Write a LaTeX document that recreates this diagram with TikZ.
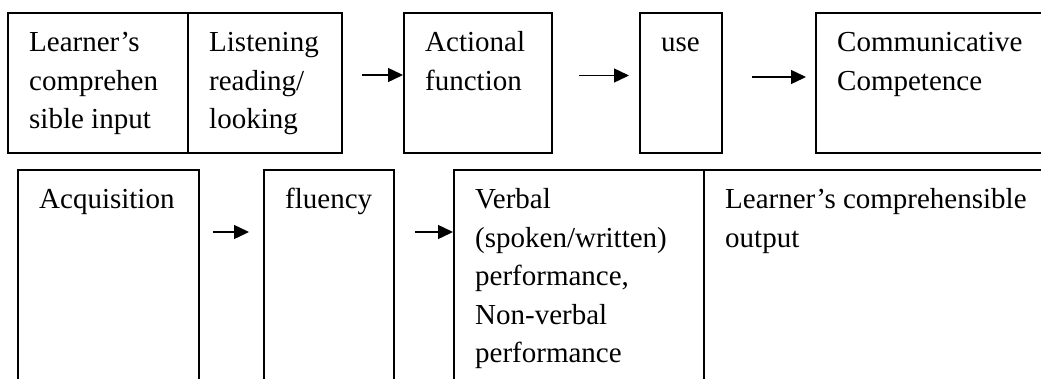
\documentclass[tikz,border=0pt]{standalone}
\usepackage{fontspec}
\setmainfont{Liberation Serif}
\usepackage{tikz}
\usetikzlibrary{calc,arrows.meta}

\begin{document}
\begin{tikzpicture}[x=1pt, y=-1pt,
    box/.style={draw, line width=1.6pt, inner sep=0pt, outer sep=0pt, anchor=north west},
    txt/.style={anchor=base west, align=left, inner sep=0pt, font=\fontsize{29}{38.5}\selectfont},
    arr/.style={line width=1.4pt, -{Triangle[length=15pt,width=14pt]}}]

    \useasboundingbox (0,0) rectangle (1041,378);
    \clip (0,0) rectangle (1041,378);

    \node[box, minimum width=180pt, minimum height=140pt] (inp) at (8,13) {};
    \node[box, minimum width=154pt, minimum height=140pt] (lst) at (188,13) {};
    \node[box, minimum width=148pt, minimum height=140pt] (act) at (404,13) {};
    \node[box, minimum width=82pt, minimum height=140pt] (use) at (640,13) {};
    \node[box, minimum width=260pt, minimum height=140pt] (comm) at (816,13) {};

    \node[box, minimum width=181pt, minimum height=230pt] (acq) at (18,170) {};
    \node[box, minimum width=130pt, minimum height=230pt] (flu) at (264,170) {};
    \node[box, minimum width=250pt, minimum height=230pt] (verb) at (454,170) {};
    \node[box, minimum width=360pt, minimum height=230pt] (outp) at (704,170) {};

    \foreach \b/\n/\t in {inp/3/{Learner's\\comprehen\\sible input},
                          lst/3/{Listening\\reading/\\looking},
                          act/2/{Actional\\function},
                          use/1/{use},
                          comm/2/{Communicative\\Competence},
                          acq/1/{Acquisition},
                          flu/1/{fluency},
                          verb/5/{Verbal\\(spoken/written)\\performance,\\Non-verbal\\performance},
                          outp/2/{Learner's comprehensible\\output}}
        \node[txt] (t\b) at ($(\b.north west)+(21,38.5*\n)$) {\t};

    \draw[arr, shorten <=20pt, shorten >=1pt] (lst.east |- 0,75) -- (act.west |- 0,75);
    \draw[arr, shorten <=27pt, shorten >=11pt] (act.east |- 0,75.5) -- (use.west |- 0,75.5);
    \draw[arr, shorten <=30pt, shorten >=10pt] (use.east |- 0,77) -- (comm.west |- 0,77);
    \draw[arr, shorten <=14pt, shorten >=15pt] (acq.east |- 0,232) -- (flu.west |- 0,232);
    \draw[arr, shorten <=21pt, shorten >=1pt] (flu.east |- 0,232) -- (verb.west |- 0,232);

\end{tikzpicture}
\end{document}
